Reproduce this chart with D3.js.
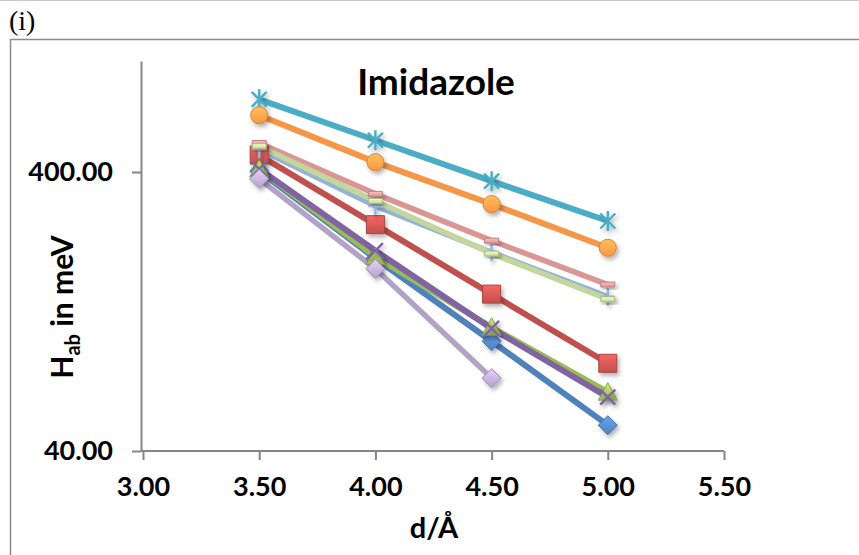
<!DOCTYPE html>
<html>
<head>
<meta charset="utf-8">
<script src="https://cdn.jsdelivr.net/npm/d3@7"></script>
<style>
    body { margin: 0; background: #fff; }
    svg { display: block; }
</style>
</head>
<body>
<div class="chart"></div>
<script>
// Data
const distances = [3.5, 4.0, 4.5, 5.0];
const xTicks = [3.0, 3.5, 4.0, 4.5, 5.0, 5.5];
const yTicks = [40, 400];

// H_ab values (meV)
const blueDiamond = [403, 196, 99, 49.5];
const redSquare = [460, 259, 146, 82.5];
const greenTriangle = [410, 199, 111, 65];
const purpleCross = [410, 209, 110, 62.4];
const tealStar = [729, 520, 371, 267];
const orangeCircle = [639, 434, 307, 214];
const lightBluePlus = [483, 302, 206, 143];
const pinkDash = [508, 334, 227, 158];
const lightGreenDash = [495, 315, 204, 140];
const lavenderDiamond = [378, 180, 73];

const series = [
    { values: blueDiamond, color: '#4F81BD', marker: 'diamond', width: 6 },
    { values: redSquare, color: '#C0504D', marker: 'square', width: 6 },
    { values: greenTriangle, color: '#9BBB59', marker: 'triangle', width: 6 },
    { values: purpleCross, color: '#8064A2', marker: 'x', width: 6 },
    { values: tealStar, color: '#4BACC6', marker: 'star', width: 6 },
    { values: orangeCircle, color: '#F79646', marker: 'circle', width: 6 },
    { values: lightBluePlus, color: '#95B3D7', marker: 'plus', width: 5.5 },
    { values: pinkDash, color: '#D99694', marker: 'dash', width: 5.5 },
    { values: lightGreenDash, color: '#C3D69B', marker: 'dash', width: 5.5 },
    { values: lavenderDiamond, color: '#B3A2C7', marker: 'diamond', width: 5.5 }
];

function draw() {
    const dimensions = {
        width: 859,
        height: 555,
        left: 143,
        right: 724,
        top: 61,
        bottom: 451
    };

    const svg = d3.select('.chart')
        .append('svg')
        .attr('width', dimensions.width)
        .attr('height', dimensions.height);

    const defs = svg.append('defs');
    defs.append('filter')
        .attr('id', 'shadow')
        .attr('x', '-50%').attr('y', '-50%')
        .attr('width', '200%').attr('height', '200%')
        .append('feDropShadow')
        .attr('dx', 2).attr('dy', 3)
        .attr('stdDeviation', 2)
        .attr('flood-color', '#000')
        .attr('flood-opacity', 0.3);

    series.forEach((s, i) => {
        const grad = defs.append('linearGradient')
            .attr('id', `grad${i}`)
            .attr('x1', 0).attr('y1', 0).attr('x2', 0).attr('y2', 1);
        grad.append('stop').attr('offset', '0%').attr('stop-color', d3.color(s.color).brighter(0.7));
        grad.append('stop').attr('offset', '100%').attr('stop-color', s.color);
    });

    // page rule, label and chart frame
    svg.append('line')
        .attr('x1', 0).attr('x2', dimensions.width)
        .attr('y1', 0.5).attr('y2', 0.5)
        .attr('stroke', '#c8c8c8');

    svg.append('text')
        .attr('x', 9).attr('y', 30)
        .style('font-family', '"Liberation Serif", serif')
        .style('font-size', '28px')
        .text('(i)');

    svg.append('rect')
        .attr('x', 10.5).attr('y', 39.5)
        .attr('width', 1000).attr('height', 1000)
        .attr('fill', 'none')
        .attr('stroke', '#8a8a8a')
        .attr('stroke-width', 1.5);

    // Scales
    const xScale = d3.scaleLinear()
        .domain([3, 5.5])
        .range([dimensions.left, dimensions.right]);

    const yScale = d3.scaleLog()
        .domain([40, 1000])
        .range([dimensions.bottom, dimensions.top]);

    // Axes
    const fontFamily = 'Lato, "Open Sans", sans-serif';

    const xAxis = d3.axisBottom(xScale)
        .tickValues(xTicks)
        .tickFormat(d3.format('.2f'))
        .tickSizeInner(9)
        .tickSizeOuter(0)
        .tickPadding(17);

    const xAxisGroup = svg.append('g')
        .attr('transform', `translate(0, ${dimensions.bottom})`)
        .call(xAxis);

    const yAxis = d3.axisLeft(yScale)
        .tickValues(yTicks)
        .tickFormat(d3.format('.2f'))
        .tickSizeInner(9)
        .tickSizeOuter(0)
        .tickPadding(19);

    const yAxisGroup = svg.append('g')
        .attr('transform', `translate(${dimensions.left - 2}, 0)`)
        .call(yAxis);

    [xAxisGroup, yAxisGroup].forEach(g => {
        g.select('.domain').attr('stroke', '#868686').attr('stroke-width', 2);
        g.selectAll('.tick line').attr('stroke', '#868686').attr('stroke-width', 2);
        g.selectAll('.tick text')
            .attr('fill', '#000')
            .style('font-family', fontFamily)
            .style('font-weight', 'bold')
            .style('font-size', '27px');
    });
    // x axis line runs from the y axis to 5.50
    xAxisGroup.select('.domain')
        .attr('d', `M${dimensions.left - 2},0H${dimensions.right}`);

    // Lines
    const line = d3.line()
        .x((d, i) => xScale(distances[i]))
        .y(d => yScale(d));

    svg.append('g')
        .selectAll('path')
        .data(series)
        .join('path')
        .attr('d', d => line(d.values))
        .attr('fill', 'none')
        .attr('stroke', d => d.color)
        .attr('stroke-width', d => d.width)
        .attr('stroke-linejoin', 'round');

    // Markers
    const markerPaths = {
        diamond: 'M0,-9.5L9.5,0L0,9.5L-9.5,0Z',
        square: 'M-9,-9H9V9H-9Z',
        triangle: 'M0,-9.5L9.5,8H-9.5Z',
        circle: d3.symbol(d3.symbolCircle, 230)(),
        x: 'M-7.5,-7.5L7.5,7.5M-7.5,7.5L7.5,-7.5',
        star: 'M-7.5,-7.5L7.5,7.5M-7.5,7.5L7.5,-7.5M0,-10V10',
        plus: 'M0,-9V9M-7,0H7',
        dash: 'M-7,-2.5H7V2.5H-7Z'
    };
    const lineMarkers = ['x', 'star', 'plus'];

    const markerGroup = svg.append('g');
    series.forEach((s, i) => {
        markerGroup.append('g')
            .selectAll('path')
            .data(s.values)
            .join('path')
            .attr('transform', (d, j) => `translate(${xScale(distances[j])}, ${yScale(d)})`)
            .attr('d', markerPaths[s.marker])
            .attr('filter', 'url(#shadow)')
            .attr('fill', lineMarkers.includes(s.marker) ? 'none' : `url(#grad${i})`)
            .attr('stroke', lineMarkers.includes(s.marker) ? s.color : d3.color(s.color).darker(0.4))
            .attr('stroke-width', lineMarkers.includes(s.marker) ? 2.4 : 1);
    });

    // Titles
    svg.append('text')
        .attr('x', 436).attr('y', 95)
        .attr('text-anchor', 'middle')
        .style('font-family', fontFamily)
        .style('font-weight', 'bold')
        .style('font-size', '37px')
        .text('Imidazole');

    svg.append('text')
        .attr('x', 434).attr('y', 538)
        .attr('text-anchor', 'middle')
        .style('font-family', fontFamily)
        .style('font-weight', 'bold')
        .style('font-size', '29px')
        .text('d/Å');

    const yTitle = svg.append('text')
        .attr('transform', 'translate(73, 307) rotate(-90)')
        .attr('text-anchor', 'middle')
        .style('font-family', fontFamily)
        .style('font-weight', 'bold')
        .style('font-size', '30px');
    yTitle.append('tspan').text('H');
    yTitle.append('tspan').attr('dy', 7).style('font-size', '20px').text('ab');
    yTitle.append('tspan').attr('dy', -7).text(' in meV');
}

draw();
</script>
</body>
</html>
